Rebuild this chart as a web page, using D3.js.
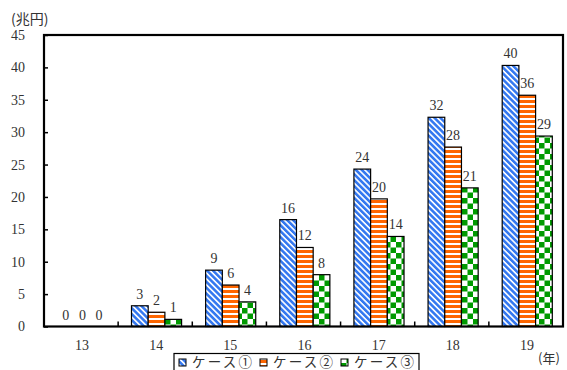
<!DOCTYPE html>
<html><head><meta charset="utf-8">
<script src="https://cdn.jsdelivr.net/npm/d3@7"></script>
<style>body{margin:0;background:#fff}svg{display:block}
.sf{font-family:"Liberation Serif","DejaVu Serif","Times New Roman",serif}
.jp{font-family:"Noto Sans CJK JP","Noto Sans CJK SC",sans-serif}
</style>
</head><body>
<svg id="c" width="567" height="370"></svg>
<script>
const years = ["13","14","15","16","17","18","19"];
const seriesNames = ["ケース①","ケース②","ケース③"];
const case1 = [0, 3.2, 8.7, 16.5, 24.3, 32.3, 40.3];
const case2 = [0, 2.2, 6.4, 12.2, 19.7, 27.7, 35.7];
const case3 = [0, 1.1, 3.8, 8.0, 13.9, 21.4, 29.4];
const labels1 = ["0","3","9","16","24","32","40"];
const labels2 = ["0","2","6","12","20","28","36"];
const labels3 = ["0","1","4","8","14","21","29"];
const yTicks = [0,5,10,15,20,25,30,35,40,45];
const yUnit = "(兆円)";
const xUnit = "(年)";

const svg = d3.select("#c");
const M = {l:44, r:563, t:35, b:326.5};

const defs = svg.append("defs");
const p1 = defs.append("pattern").attr("id","p1").attr("patternUnits","userSpaceOnUse")
  .attr("width",4.2).attr("height",4.2).attr("patternTransform","rotate(-45)");
p1.append("rect").attr("width",4.2).attr("height",4.2).attr("fill","#fff");
p1.append("rect").attr("width",2.6).attr("height",4.2).attr("fill","#3478f0");
const p2 = defs.append("pattern").attr("id","p2").attr("patternUnits","userSpaceOnUse")
  .attr("width",5).attr("height",5);
p2.append("rect").attr("width",5).attr("height",5).attr("fill","#fff");
p2.append("rect").attr("width",5).attr("height",3).attr("fill","#ff6600");
const s = 5.5;
const p3 = defs.append("pattern").attr("id","p3").attr("patternUnits","userSpaceOnUse")
  .attr("width",2*s).attr("height",2*s);
p3.append("rect").attr("width",2*s).attr("height",2*s).attr("fill","#fff");
p3.append("rect").attr("width",s).attr("height",s).attr("fill","#009a00");
p3.append("rect").attr("x",s).attr("y",s).attr("width",s).attr("height",s).attr("fill","#009a00");
const fills = ["url(#p1)","url(#p2)","url(#p3)"];

const x0 = d3.scaleBand().domain(years).range([M.l, M.r]).padding(0);
const bw = x0.bandwidth();
const x1 = d3.scaleBand().domain([0,1,2]).range([bw*0.18, bw*0.18 + 50.1]).padding(0);
const y = d3.scaleLinear().domain([0,45]).range([M.b, M.t]);

const data = [case1, case2, case3];
const labs = [labels1, labels2, labels3];

data.forEach((arr, si) => {
  svg.append("g").selectAll("rect").data(arr).join("rect")
    .attr("x",(d,i)=>x0(years[i]) + x1(si))
    .attr("y",d=>y(d))
    .attr("width",x1.bandwidth())
    .attr("height",d=>M.b - y(d))
    .attr("fill",fills[si])
    .attr("stroke",d=>d>0?"#000":"none").attr("stroke-width",1.2);
});

data.forEach((arr, si) => {
  svg.append("g").selectAll("text").data(arr).join("text")
    .attr("class","sf")
    .attr("x",(d,i)=>x0(years[i]) + x1(si) + x1.bandwidth()/2)
    .attr("y",d=>y(d) - 7)
    .attr("text-anchor","middle")
    .attr("font-size",14).attr("fill","#333")
    .text((d,i)=>labs[si][i]);
});

svg.append("rect").attr("x",M.l).attr("y",M.t).attr("width",M.r-M.l).attr("height",M.b-M.t)
  .attr("fill","none").attr("stroke","#000").attr("stroke-width",2.2);

const yAxis = d3.axisLeft(y).tickValues(yTicks).tickSize(-4).tickPadding(19).tickFormat(d3.format("d"));
const gy = svg.append("g").attr("transform",`translate(${M.l},0)`).call(yAxis);
gy.attr("font-family",null);
gy.select(".domain").remove();
gy.selectAll("line").attr("stroke","#000").attr("stroke-width",1.5);
gy.selectAll("text").attr("class","sf").attr("font-size",14).attr("fill","#333");

const bounds = years.slice(1).map(d=>x0(d));
svg.append("g").selectAll("line").data(bounds).join("line")
  .attr("x1",d=>d).attr("x2",d=>d).attr("y1",M.b).attr("y2",M.b-5)
  .attr("stroke","#000").attr("stroke-width",1.5);
const xAxis = d3.axisBottom(x0).tickSize(0).tickPadding(14);
const gx = svg.append("g").attr("transform",`translate(1,${M.b})`).call(xAxis);
gx.attr("font-family",null);
gx.select(".domain").remove();
gx.selectAll("text").attr("class","sf").attr("font-size",14).attr("fill","#333");

svg.append("text").attr("class","jp").attr("x",11).attr("y",24)
  .attr("font-size",14).attr("fill","#333").text(yUnit);
svg.append("text").attr("class","jp").attr("x",538).attr("y",363)
  .attr("font-size",13).attr("fill","#333").text(xUnit);

const lg = svg.append("g");
lg.append("rect").attr("x",174).attr("y",353.5).attr("width",245).attr("height",30)
  .attr("fill","#fff").attr("stroke","#000").attr("stroke-width",1.2);
const lx = d3.scaleBand().domain([0,1,2]).range([179, 179+243]);
seriesNames.forEach((n,i)=>{
  lg.append("rect").attr("x",lx(i)).attr("y",359).attr("width",7).attr("height",7)
    .attr("fill",fills[i]).attr("stroke","#000").attr("stroke-width",1);
  lg.append("text").attr("class","jp").attr("x",lx(i)+13).attr("y",366.5)
    .attr("font-size",13.5).attr("textLength",60).attr("lengthAdjust","spacing")
    .attr("fill","#333").text(n);
});
</script>
</body></html>
